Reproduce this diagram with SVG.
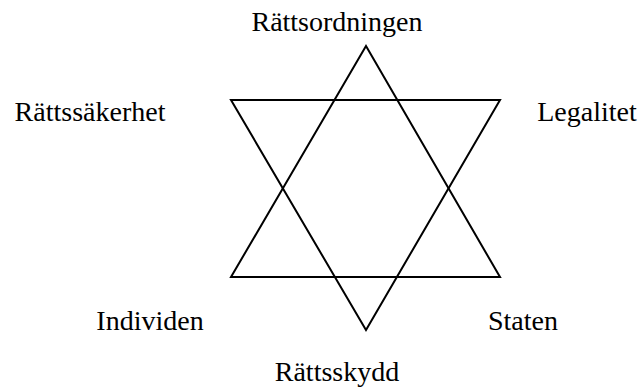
<svg xmlns="http://www.w3.org/2000/svg" width="640" height="390" viewBox="0 0 640 390">
<style>
text{font-family:"Liberation Serif","Times New Roman",serif;font-size:28px;fill:#000;text-anchor:middle}
.tri{fill:none;stroke:#000;stroke-width:2;stroke-linejoin:miter}
</style>
<rect width="640" height="390" fill="#fff"/>
<g id="connectors">
<polygon class="tri" points="366,46 231,277 500,277"/>
<polygon class="tri" points="231,100 500,100 366,330"/>
</g>
<g id="n-rattsordningen"><text x="337" y="31">Rättsordningen</text></g>
<g id="n-rattssakerhet"><text x="90" y="121">Rättssäkerhet</text></g>
<g id="n-legalitet"><text x="587" y="121">Legalitet</text></g>
<g id="n-individen"><text x="150" y="330">Individen</text></g>
<g id="n-staten"><text x="523" y="330">Staten</text></g>
<g id="n-rattsskydd"><text x="337" y="381">Rättsskydd</text></g>
</svg>
